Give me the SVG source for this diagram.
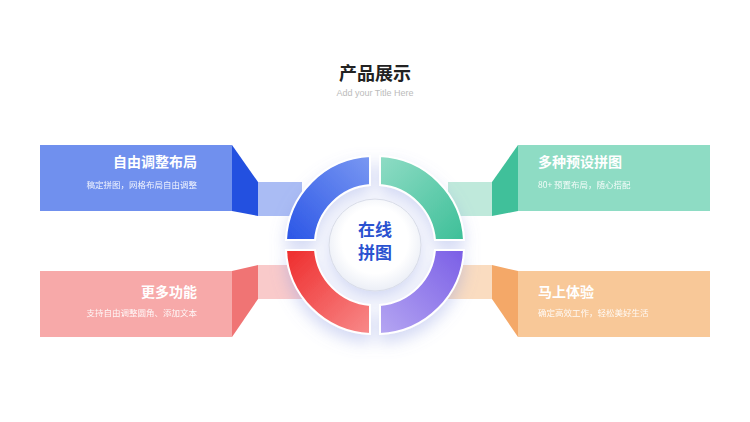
<svg xmlns="http://www.w3.org/2000/svg" width="750" height="422" viewBox="0 0 750 422">
<defs>
<linearGradient id="gb" x1="0" y1="1" x2="1" y2="0"><stop offset="0" stop-color="#2a55e6"/><stop offset="1" stop-color="#7a98f2"/></linearGradient>
<linearGradient id="gg" x1="1" y1="1" x2="0" y2="0"><stop offset="0" stop-color="#3dbf98"/><stop offset="1" stop-color="#8fdcc5"/></linearGradient>
<linearGradient id="gr" x1="0" y1="0" x2="1" y2="1"><stop offset="0" stop-color="#ee2c2c"/><stop offset="1" stop-color="#f88a8a"/></linearGradient>
<linearGradient id="gp" x1="1" y1="0" x2="0" y2="1"><stop offset="0" stop-color="#7a5ee6"/><stop offset="1" stop-color="#b5a6f2"/></linearGradient>
<radialGradient id="gc" cx="0.5" cy="0.45" r="0.6"><stop offset="0.6" stop-color="#ffffff"/><stop offset="1" stop-color="#e6eaf4"/></radialGradient>
<filter id="sh" x="-30%" y="-30%" width="160%" height="170%"><feDropShadow dx="0" dy="8" stdDeviation="8" flood-color="#8090e0" flood-opacity="0.35"/></filter>
</defs>
<style>
.t{font-family:"Noto Sans CJK SC","Liberation Sans",sans-serif;font-weight:bold;fill:#fff;font-size:14px}
.s{font-family:"Noto Sans CJK SC","Liberation Sans",sans-serif;fill:#fff;font-size:8.5px;opacity:0.9}
.seg{stroke:#fff;stroke-width:2}
.c{font-family:"Noto Sans CJK SC",sans-serif;font-weight:bold;font-size:17px;fill:#2a52d0}
</style>
<rect width="750" height="422" fill="#fff"/>
<text x="375" y="80" text-anchor="middle" font-family="Noto Sans CJK SC,sans-serif" font-weight="bold" font-size="18" fill="#222">产品展示</text>
<text x="375" y="96" text-anchor="middle" font-family="Liberation Sans,sans-serif" font-size="9" fill="#bbb">Add your Title Here</text>
<g id="connectors">
<rect x="258" y="182" width="44" height="34" fill="#aabcf4"/>
<rect x="258" y="265" width="44" height="34" fill="#f9caca"/>
<rect x="448" y="182" width="44" height="34" fill="#bfe9db"/>
<rect x="448" y="265" width="44" height="34" fill="#fadcc0"/>
</g>
<g id="node-tl">
<rect x="40" y="145" width="192" height="66" fill="#7090ee"/>
<polygon points="232,145 258,182 258,216 232,211" fill="#2350e0"/>
<text class="t" x="197" y="167" text-anchor="end">自由调整布局</text>
<text class="s" x="197" y="188" text-anchor="end">稿定拼图，网格布局自由调整</text>
</g>
<g id="node-bl">
<rect x="40" y="271" width="192" height="66" fill="#f7a9a9"/>
<polygon points="232,271 258,265 258,299 232,337" fill="#f07474"/>
<text class="t" x="197" y="297" text-anchor="end">更多功能</text>
<text class="s" x="197" y="316" text-anchor="end">支持自由调整圆角、添加文本</text>
</g>
<g id="node-tr">
<rect x="518" y="145" width="192" height="66" fill="#8edcc4"/>
<polygon points="518,145 492,182 492,216 518,211" fill="#40c09a"/>
<text class="t" x="538" y="167">多种预设拼图</text>
<text class="s" x="538" y="188">80+ 预置布局，随心搭配</text>
</g>
<g id="node-br">
<rect x="518" y="271" width="192" height="66" fill="#f8c898"/>
<polygon points="518,271 492,265 492,299 518,337" fill="#f4a868"/>
<text class="t" x="538" y="297">马上体验</text>
<text class="s" x="538" y="316">确定高效工作，轻松美好生活</text>
</g>
<g id="center" filter="url(#sh)">
<path class="seg" d="M286,240 A88 88 0 0 1 370,156 L370,185 A60 60 0 0 0 315,240 Z" fill="url(#gb)"/>
<path class="seg" d="M380,156 A88 88 0 0 1 464,240 L435,240 A60 60 0 0 0 380,185 Z" fill="url(#gg)"/>
<path class="seg" d="M286,250 A88 88 0 0 0 370,334 L370,305 A60 60 0 0 1 315,250 Z" fill="url(#gr)"/>
<path class="seg" d="M380,334 A88 88 0 0 0 464,250 L435,250 A60 60 0 0 1 380,305 Z" fill="url(#gp)"/>
<circle cx="375" cy="245" r="46" fill="url(#gc)" stroke="#d8dce8" stroke-width="1"/>
</g>
<g id="center-text">
<text class="c" x="375" y="236" text-anchor="middle">在线</text>
<text class="c" x="375" y="259" text-anchor="middle">拼图</text>
</g>
</svg>
